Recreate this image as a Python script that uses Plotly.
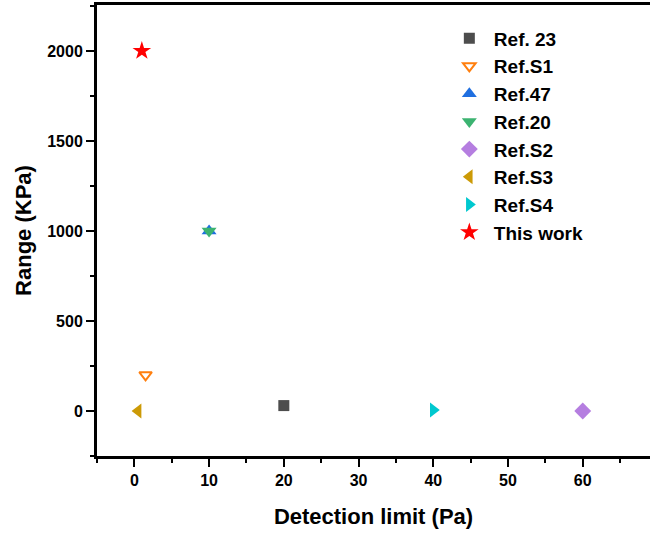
import plotly.graph_objects as go

names = ["Ref. 23", "Ref.S1", "Ref.47", "Ref.20", "Ref.S2", "Ref.S3", "Ref.S4", "This work"]
detection_limit = [20, 1.5, 10, 10, 60, 0.5, 40, 1]
range_kpa = [30, 200, 1000, 1000, 0, 0, 5, 2000]
symbols = ["square", "triangle-down-open", "triangle-up", "triangle-down", "diamond",
           "triangle-left", "triangle-right", "star"]
colors = ["#4d4d4d", "#ff7f0e", "#1f6fe0", "#3cb371", "#b57ee0", "#cc9a06", "#00c8cf", "#ff0000"]
sizes = [11, 11, 13, 13, 13, 13, 13, 14]

x_ticks = [0, 10, 20, 30, 40, 50, 60]
y_ticks = [0, 500, 1000, 1500, 2000]

FONT = "Arial, Liberation Sans, sans-serif"

fig = go.Figure()
for i, n in enumerate(names):
    marker = dict(symbol=symbols[i], color=colors[i], size=sizes[i])
    if symbols[i].endswith("open"):
        marker["line"] = dict(color=colors[i], width=2)
    else:
        marker["line"] = dict(width=0)
    fig.add_trace(go.Scatter(
        x=[detection_limit[i]], y=[range_kpa[i]], mode="markers", name=n,
        marker=marker))

axis_common = dict(
    showgrid=False, zeroline=False, showline=True, linecolor="black", linewidth=3,
    ticks="outside", ticklen=8, tickwidth=2, tickcolor="black",
    tickfont=dict(family=FONT, size=16, color="black", weight="bold"),
)
fig.update_layout(
    width=650, height=536,
    margin=dict(l=97, r=0, t=5, b=80, autoexpand=False),
    plot_bgcolor="white", paper_bgcolor="white",
    showlegend=True,
    legend=dict(x=0.629, y=0.968, xanchor="left", yanchor="top",
                font=dict(family=FONT, size=19, color="black", weight="bold"),
                bgcolor="rgba(0,0,0,0)", itemwidth=39),
    xaxis=dict(range=[-5, 69], tickvals=x_ticks, mirror=True,
               minor=dict(dtick=5, ticks="outside", ticklen=4, tickwidth=2, tickcolor="black", tick0=0),
               title=dict(text="Detection limit (Pa)", standoff=21,
                          font=dict(family=FONT, size=22, color="black", weight="bold")),
               **axis_common),
    yaxis=dict(range=[-250, 2255], tickvals=y_ticks,
               minor=dict(dtick=250, ticks="outside", ticklen=4, tickwidth=2, tickcolor="black", tick0=0),
               title=dict(text="Range (KPa)", standoff=10,
                          font=dict(family=FONT, size=22, color="black", weight="bold")),
               **axis_common),
)
fig.write_html("out.html", config={"displayModeBar": False},
               post_script="document.body.style.margin='0';")
